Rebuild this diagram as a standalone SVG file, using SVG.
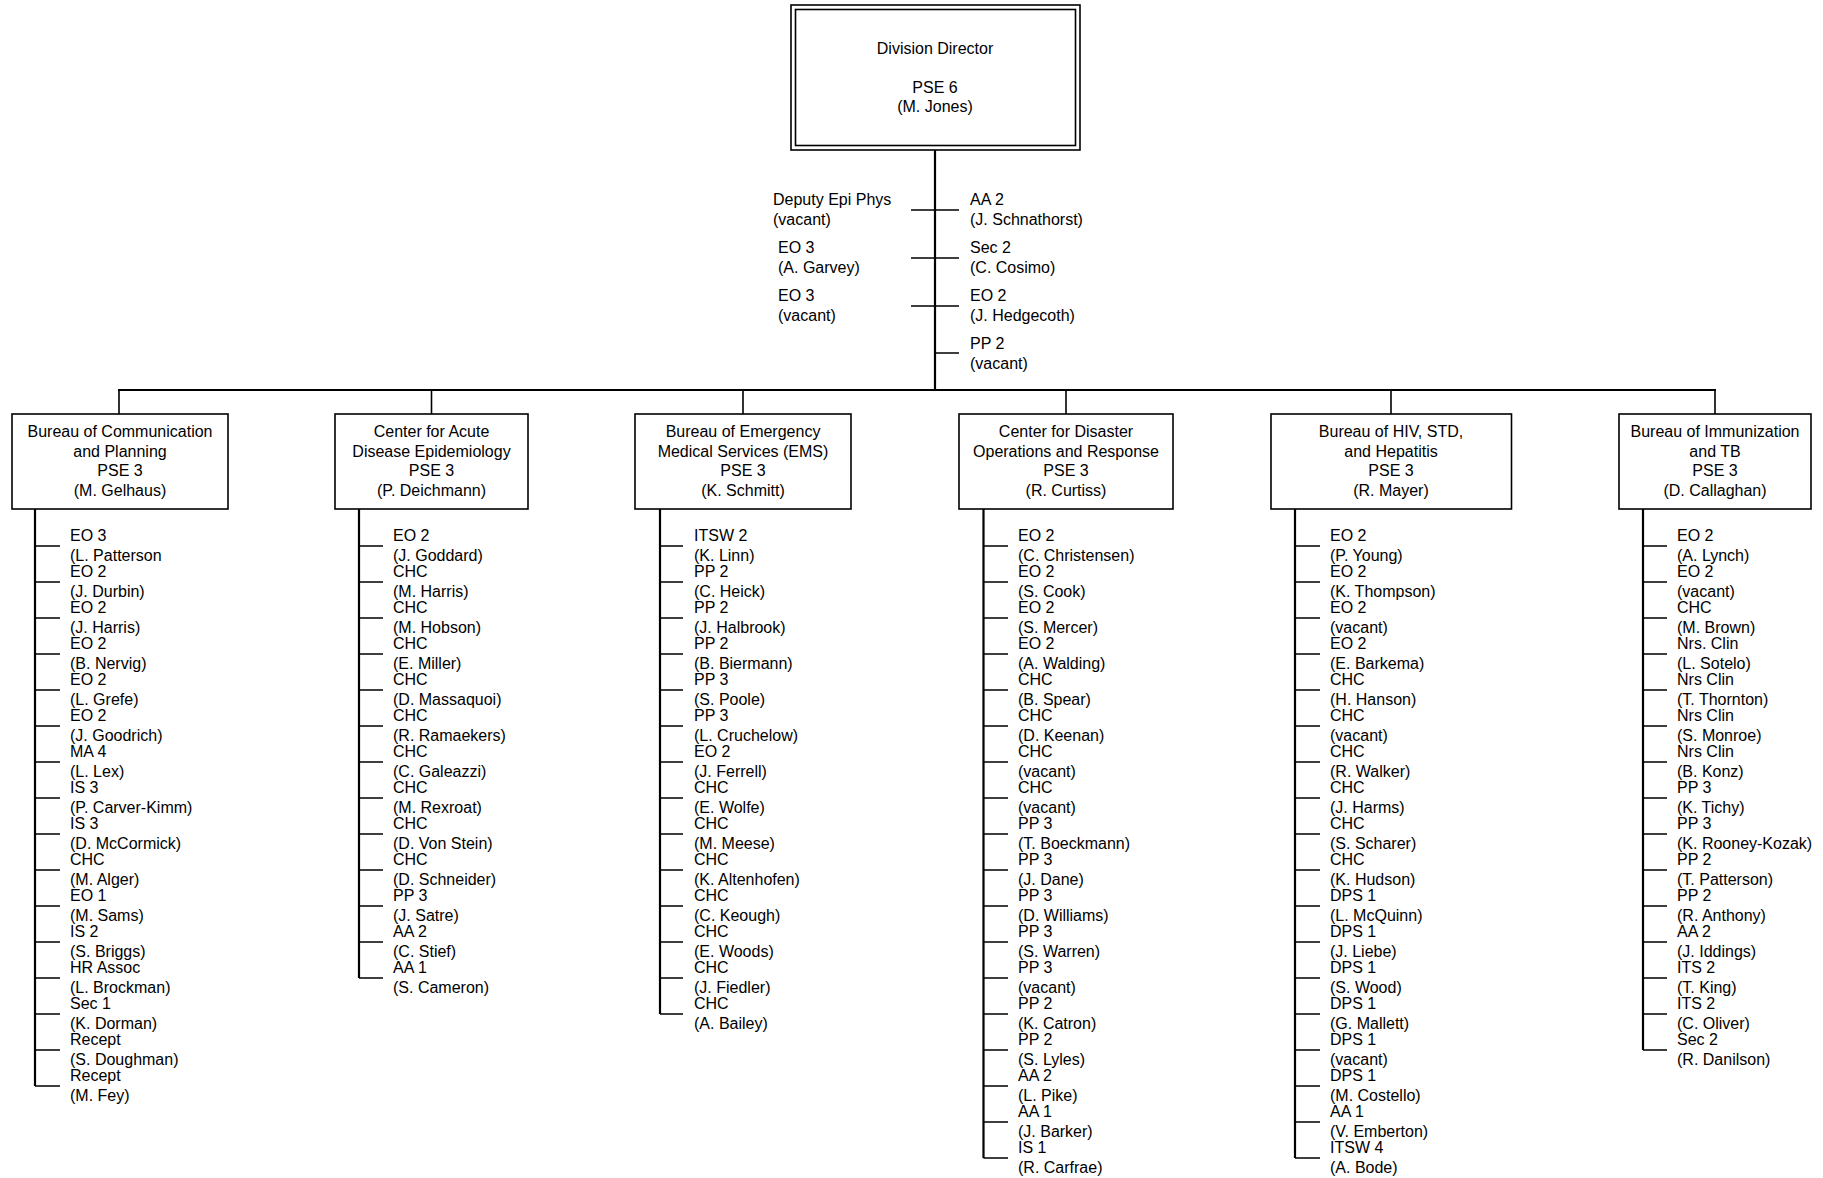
<svg xmlns="http://www.w3.org/2000/svg" width="1823" height="1178" viewBox="0 0 1823 1178">
<style>
text{font-family:"Liberation Sans",Arial,sans-serif;font-size:16px;fill:#000}
.c{text-anchor:middle}
.box{fill:#fff;stroke:#000;stroke-width:1.6}
.ln{fill:none;stroke:#000;stroke-width:1.6}
.vl{fill:none;stroke:#000;stroke-width:2.2}
</style>
<rect width="1823" height="1178" fill="#fff"/>
<g id="connectors">
<path class="vl" d="M935 150 V390 M118 390 H1716"/>
<path class="ln" d="M911 210 H959 M911 258 H959 M911 306 H959 M935 353 H959"/>
<path class="ln" d="M119 390 V414 M431.5 390 V414 M743 390 V414 M1066 390 V414 M1391 390 V414 M1715 390 V414"/>
<path class="vl" d="M35 509 V1086 M359 509 V978 M660 509 V1014 M983.5 509 V1158 M1295 509 V1158 M1643 509 V1050"/>
<path class="ln" d="M35 546H60M35 582H60M35 618H60M35 654H60M35 690H60M35 726H60M35 762H60M35 798H60M35 834H60M35 870H60M35 906H60M35 942H60M35 978H60M35 1014H60M35 1050H60M35 1086H60"/>
<path class="ln" d="M359 546H383M359 582H383M359 618H383M359 654H383M359 690H383M359 726H383M359 762H383M359 798H383M359 834H383M359 870H383M359 906H383M359 942H383M359 978H383"/>
<path class="ln" d="M660 546H683M660 582H683M660 618H683M660 654H683M660 690H683M660 726H683M660 762H683M660 798H683M660 834H683M660 870H683M660 906H683M660 942H683M660 978H683M660 1014H683"/>
<path class="ln" d="M983.5 546H1008M983.5 582H1008M983.5 618H1008M983.5 654H1008M983.5 690H1008M983.5 726H1008M983.5 762H1008M983.5 798H1008M983.5 834H1008M983.5 870H1008M983.5 906H1008M983.5 942H1008M983.5 978H1008M983.5 1014H1008M983.5 1050H1008M983.5 1086H1008M983.5 1122H1008M983.5 1158H1008"/>
<path class="ln" d="M1295 546H1320M1295 582H1320M1295 618H1320M1295 654H1320M1295 690H1320M1295 726H1320M1295 762H1320M1295 798H1320M1295 834H1320M1295 870H1320M1295 906H1320M1295 942H1320M1295 978H1320M1295 1014H1320M1295 1050H1320M1295 1086H1320M1295 1122H1320M1295 1158H1320"/>
<path class="ln" d="M1643 546H1667M1643 582H1667M1643 618H1667M1643 654H1667M1643 690H1667M1643 726H1667M1643 762H1667M1643 798H1667M1643 834H1667M1643 870H1667M1643 906H1667M1643 942H1667M1643 978H1667M1643 1014H1667M1643 1050H1667"/>
</g>
<g id="director">
<rect class="box" x="791" y="5" width="289" height="145"/>
<rect class="box" x="795.5" y="9.5" width="280" height="136"/>
<text class="c" x="935" y="54">Division Director</text>
<text class="c" x="935" y="93">PSE 6</text>
<text class="c" x="935" y="112">(M. Jones)</text>
</g>
<g id="staff">
<text x="773" y="205">Deputy Epi Phys<tspan x="773" dy="19.5">(vacant)</tspan></text>
<text x="778" y="253">EO 3<tspan x="778" dy="19.5">(A. Garvey)</tspan></text>
<text x="778" y="301">EO 3<tspan x="778" dy="19.5">(vacant)</tspan></text>
<text x="970" y="205">AA 2<tspan x="970" dy="19.5">(J. Schnathorst)</tspan></text>
<text x="970" y="253">Sec 2<tspan x="970" dy="19.5">(C. Cosimo)</tspan></text>
<text x="970" y="301">EO 2<tspan x="970" dy="19.5">(J. Hedgecoth)</tspan></text>
<text x="970" y="349">PP 2<tspan x="970" dy="19.5">(vacant)</tspan></text>
</g>
<g id="bureau-communication">
<rect class="box" x="12" y="414" width="216" height="95"/>
<text class="c" x="120" y="437">Bureau of Communication</text>
<text class="c" x="120" y="456.5">and Planning</text>
<text class="c" x="120" y="476">PSE 3</text>
<text class="c" x="120" y="495.5">(M. Gelhaus)</text>
</g>
<g id="center-acute">
<rect class="box" x="335" y="414" width="193" height="95"/>
<text class="c" x="431.5" y="437">Center for Acute</text>
<text class="c" x="431.5" y="456.5">Disease Epidemiology</text>
<text class="c" x="431.5" y="476">PSE 3</text>
<text class="c" x="431.5" y="495.5">(P. Deichmann)</text>
</g>
<g id="bureau-ems">
<rect class="box" x="635" y="414" width="216" height="95"/>
<text class="c" x="743" y="437">Bureau of Emergency</text>
<text class="c" x="743" y="456.5">Medical Services (EMS)</text>
<text class="c" x="743" y="476">PSE 3</text>
<text class="c" x="743" y="495.5">(K. Schmitt)</text>
</g>
<g id="center-disaster">
<rect class="box" x="959" y="414" width="214" height="95"/>
<text class="c" x="1066" y="437">Center for Disaster</text>
<text class="c" x="1066" y="456.5">Operations and Response</text>
<text class="c" x="1066" y="476">PSE 3</text>
<text class="c" x="1066" y="495.5">(R. Curtiss)</text>
</g>
<g id="bureau-hiv">
<rect class="box" x="1271" y="414" width="240.5" height="95"/>
<text class="c" x="1391" y="437">Bureau of HIV, STD,</text>
<text class="c" x="1391" y="456.5">and Hepatitis</text>
<text class="c" x="1391" y="476">PSE 3</text>
<text class="c" x="1391" y="495.5">(R. Mayer)</text>
</g>
<g id="bureau-immunization">
<rect class="box" x="1619" y="414" width="192" height="95"/>
<text class="c" x="1715" y="437">Bureau of Immunization</text>
<text class="c" x="1715" y="456.5">and TB</text>
<text class="c" x="1715" y="476">PSE 3</text>
<text class="c" x="1715" y="495.5">(D. Callaghan)</text>
</g>
<g id="list-communication">
<text x="70" y="541">EO 3<tspan x="70" dy="19.5">(L. Patterson</tspan></text>
<text x="70" y="577">EO 2<tspan x="70" dy="19.5">(J. Durbin)</tspan></text>
<text x="70" y="613">EO 2<tspan x="70" dy="19.5">(J. Harris)</tspan></text>
<text x="70" y="649">EO 2<tspan x="70" dy="19.5">(B. Nervig)</tspan></text>
<text x="70" y="685">EO 2<tspan x="70" dy="19.5">(L. Grefe)</tspan></text>
<text x="70" y="721">EO 2<tspan x="70" dy="19.5">(J. Goodrich)</tspan></text>
<text x="70" y="757">MA 4<tspan x="70" dy="19.5">(L. Lex)</tspan></text>
<text x="70" y="793">IS 3<tspan x="70" dy="19.5">(P. Carver-Kimm)</tspan></text>
<text x="70" y="829">IS 3<tspan x="70" dy="19.5">(D. McCormick)</tspan></text>
<text x="70" y="865">CHC<tspan x="70" dy="19.5">(M. Alger)</tspan></text>
<text x="70" y="901">EO 1<tspan x="70" dy="19.5">(M. Sams)</tspan></text>
<text x="70" y="937">IS 2<tspan x="70" dy="19.5">(S. Briggs)</tspan></text>
<text x="70" y="973">HR Assoc<tspan x="70" dy="19.5">(L. Brockman)</tspan></text>
<text x="70" y="1009">Sec 1<tspan x="70" dy="19.5">(K. Dorman)</tspan></text>
<text x="70" y="1045">Recept<tspan x="70" dy="19.5">(S. Doughman)</tspan></text>
<text x="70" y="1081">Recept<tspan x="70" dy="19.5">(M. Fey)</tspan></text>
</g>
<g id="list-acute">
<text x="393" y="541">EO 2<tspan x="393" dy="19.5">(J. Goddard)</tspan></text>
<text x="393" y="577">CHC<tspan x="393" dy="19.5">(M. Harris)</tspan></text>
<text x="393" y="613">CHC<tspan x="393" dy="19.5">(M. Hobson)</tspan></text>
<text x="393" y="649">CHC<tspan x="393" dy="19.5">(E. Miller)</tspan></text>
<text x="393" y="685">CHC<tspan x="393" dy="19.5">(D. Massaquoi)</tspan></text>
<text x="393" y="721">CHC<tspan x="393" dy="19.5">(R. Ramaekers)</tspan></text>
<text x="393" y="757">CHC<tspan x="393" dy="19.5">(C. Galeazzi)</tspan></text>
<text x="393" y="793">CHC<tspan x="393" dy="19.5">(M. Rexroat)</tspan></text>
<text x="393" y="829">CHC<tspan x="393" dy="19.5">(D. Von Stein)</tspan></text>
<text x="393" y="865">CHC<tspan x="393" dy="19.5">(D. Schneider)</tspan></text>
<text x="393" y="901">PP 3<tspan x="393" dy="19.5">(J. Satre)</tspan></text>
<text x="393" y="937">AA 2<tspan x="393" dy="19.5">(C. Stief)</tspan></text>
<text x="393" y="973">AA 1<tspan x="393" dy="19.5">(S. Cameron)</tspan></text>
</g>
<g id="list-ems">
<text x="694" y="541">ITSW 2<tspan x="694" dy="19.5">(K. Linn)</tspan></text>
<text x="694" y="577">PP 2<tspan x="694" dy="19.5">(C. Heick)</tspan></text>
<text x="694" y="613">PP 2<tspan x="694" dy="19.5">(J. Halbrook)</tspan></text>
<text x="694" y="649">PP 2<tspan x="694" dy="19.5">(B. Biermann)</tspan></text>
<text x="694" y="685">PP 3<tspan x="694" dy="19.5">(S. Poole)</tspan></text>
<text x="694" y="721">PP 3<tspan x="694" dy="19.5">(L. Cruchelow)</tspan></text>
<text x="694" y="757">EO 2<tspan x="694" dy="19.5">(J. Ferrell)</tspan></text>
<text x="694" y="793">CHC<tspan x="694" dy="19.5">(E. Wolfe)</tspan></text>
<text x="694" y="829">CHC<tspan x="694" dy="19.5">(M. Meese)</tspan></text>
<text x="694" y="865">CHC<tspan x="694" dy="19.5">(K. Altenhofen)</tspan></text>
<text x="694" y="901">CHC<tspan x="694" dy="19.5">(C. Keough)</tspan></text>
<text x="694" y="937">CHC<tspan x="694" dy="19.5">(E. Woods)</tspan></text>
<text x="694" y="973">CHC<tspan x="694" dy="19.5">(J. Fiedler)</tspan></text>
<text x="694" y="1009">CHC<tspan x="694" dy="19.5">(A. Bailey)</tspan></text>
</g>
<g id="list-disaster">
<text x="1018" y="541">EO 2<tspan x="1018" dy="19.5">(C. Christensen)</tspan></text>
<text x="1018" y="577">EO 2<tspan x="1018" dy="19.5">(S. Cook)</tspan></text>
<text x="1018" y="613">EO 2<tspan x="1018" dy="19.5">(S. Mercer)</tspan></text>
<text x="1018" y="649">EO 2<tspan x="1018" dy="19.5">(A. Walding)</tspan></text>
<text x="1018" y="685">CHC<tspan x="1018" dy="19.5">(B. Spear)</tspan></text>
<text x="1018" y="721">CHC<tspan x="1018" dy="19.5">(D. Keenan)</tspan></text>
<text x="1018" y="757">CHC<tspan x="1018" dy="19.5">(vacant)</tspan></text>
<text x="1018" y="793">CHC<tspan x="1018" dy="19.5">(vacant)</tspan></text>
<text x="1018" y="829">PP 3<tspan x="1018" dy="19.5">(T. Boeckmann)</tspan></text>
<text x="1018" y="865">PP 3<tspan x="1018" dy="19.5">(J. Dane)</tspan></text>
<text x="1018" y="901">PP 3<tspan x="1018" dy="19.5">(D. Williams)</tspan></text>
<text x="1018" y="937">PP 3<tspan x="1018" dy="19.5">(S. Warren)</tspan></text>
<text x="1018" y="973">PP 3<tspan x="1018" dy="19.5">(vacant)</tspan></text>
<text x="1018" y="1009">PP 2<tspan x="1018" dy="19.5">(K. Catron)</tspan></text>
<text x="1018" y="1045">PP 2<tspan x="1018" dy="19.5">(S. Lyles)</tspan></text>
<text x="1018" y="1081">AA 2<tspan x="1018" dy="19.5">(L. Pike)</tspan></text>
<text x="1018" y="1117">AA 1<tspan x="1018" dy="19.5">(J. Barker)</tspan></text>
<text x="1018" y="1153">IS 1<tspan x="1018" dy="19.5">(R. Carfrae)</tspan></text>
</g>
<g id="list-hiv">
<text x="1330" y="541">EO 2<tspan x="1330" dy="19.5">(P. Young)</tspan></text>
<text x="1330" y="577">EO 2<tspan x="1330" dy="19.5">(K. Thompson)</tspan></text>
<text x="1330" y="613">EO 2<tspan x="1330" dy="19.5">(vacant)</tspan></text>
<text x="1330" y="649">EO 2<tspan x="1330" dy="19.5">(E. Barkema)</tspan></text>
<text x="1330" y="685">CHC<tspan x="1330" dy="19.5">(H. Hanson)</tspan></text>
<text x="1330" y="721">CHC<tspan x="1330" dy="19.5">(vacant)</tspan></text>
<text x="1330" y="757">CHC<tspan x="1330" dy="19.5">(R. Walker)</tspan></text>
<text x="1330" y="793">CHC<tspan x="1330" dy="19.5">(J. Harms)</tspan></text>
<text x="1330" y="829">CHC<tspan x="1330" dy="19.5">(S. Scharer)</tspan></text>
<text x="1330" y="865">CHC<tspan x="1330" dy="19.5">(K. Hudson)</tspan></text>
<text x="1330" y="901">DPS 1<tspan x="1330" dy="19.5">(L. McQuinn)</tspan></text>
<text x="1330" y="937">DPS 1<tspan x="1330" dy="19.5">(J. Liebe)</tspan></text>
<text x="1330" y="973">DPS 1<tspan x="1330" dy="19.5">(S. Wood)</tspan></text>
<text x="1330" y="1009">DPS 1<tspan x="1330" dy="19.5">(G. Mallett)</tspan></text>
<text x="1330" y="1045">DPS 1<tspan x="1330" dy="19.5">(vacant)</tspan></text>
<text x="1330" y="1081">DPS 1<tspan x="1330" dy="19.5">(M. Costello)</tspan></text>
<text x="1330" y="1117">AA 1<tspan x="1330" dy="19.5">(V. Emberton)</tspan></text>
<text x="1330" y="1153">ITSW 4<tspan x="1330" dy="19.5">(A. Bode)</tspan></text>
</g>
<g id="list-immunization">
<text x="1677" y="541">EO 2<tspan x="1677" dy="19.5">(A. Lynch)</tspan></text>
<text x="1677" y="577">EO 2<tspan x="1677" dy="19.5">(vacant)</tspan></text>
<text x="1677" y="613">CHC<tspan x="1677" dy="19.5">(M. Brown)</tspan></text>
<text x="1677" y="649">Nrs. Clin<tspan x="1677" dy="19.5">(L. Sotelo)</tspan></text>
<text x="1677" y="685">Nrs Clin<tspan x="1677" dy="19.5">(T. Thornton)</tspan></text>
<text x="1677" y="721">Nrs Clin<tspan x="1677" dy="19.5">(S. Monroe)</tspan></text>
<text x="1677" y="757">Nrs Clin<tspan x="1677" dy="19.5">(B. Konz)</tspan></text>
<text x="1677" y="793">PP 3<tspan x="1677" dy="19.5">(K. Tichy)</tspan></text>
<text x="1677" y="829">PP 3<tspan x="1677" dy="19.5">(K. Rooney-Kozak)</tspan></text>
<text x="1677" y="865">PP 2<tspan x="1677" dy="19.5">(T. Patterson)</tspan></text>
<text x="1677" y="901">PP 2<tspan x="1677" dy="19.5">(R. Anthony)</tspan></text>
<text x="1677" y="937">AA 2<tspan x="1677" dy="19.5">(J. Iddings)</tspan></text>
<text x="1677" y="973">ITS 2<tspan x="1677" dy="19.5">(T. King)</tspan></text>
<text x="1677" y="1009">ITS 2<tspan x="1677" dy="19.5">(C. Oliver)</tspan></text>
<text x="1677" y="1045">Sec 2<tspan x="1677" dy="19.5">(R. Danilson)</tspan></text>
</g>
</svg>
